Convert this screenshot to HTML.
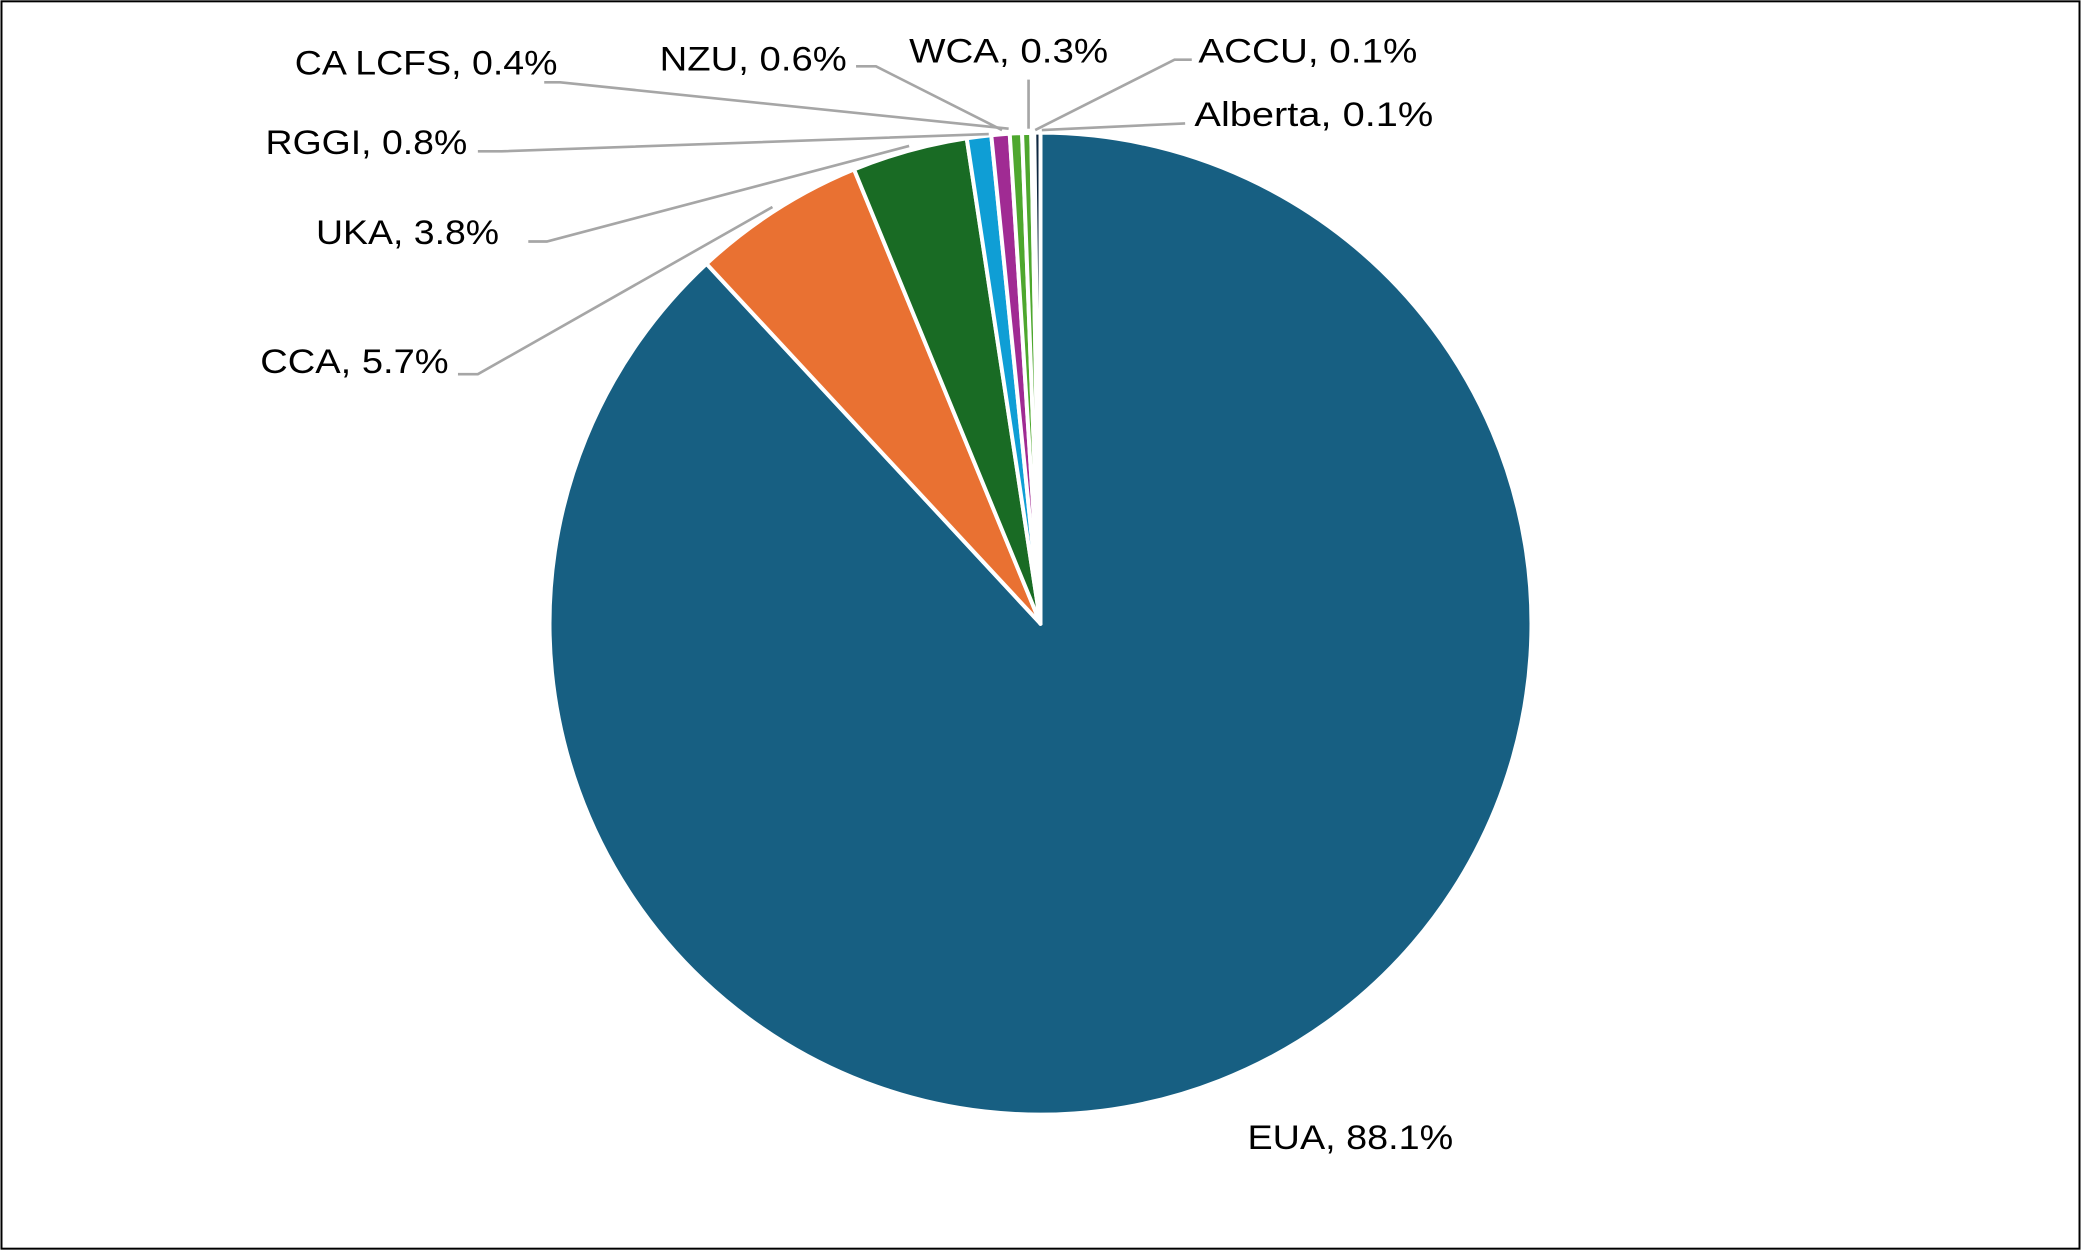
<!DOCTYPE html>
<html><head><style>html,body{margin:0;padding:0;background:#fff}svg{display:block}</style></head>
<body>
<svg width="2081" height="1250" viewBox="0 0 1568 942" xmlns="http://www.w3.org/2000/svg">
<rect x="1" y="1" width="1566" height="940" fill="#fff" stroke="#000" stroke-width="1.5"/>
<g stroke="#fff" stroke-width="3" stroke-linejoin="round">
<path d="M784,470 L784,100 A370,370 0 1 1 532.3,198.8 Z" fill="#175f82"/>
<path d="M784,470 L532.3,198.8 A370,370 0 0 1 643.5,127.7 Z" fill="#e97132"/>
<path d="M784,470 L643.5,127.7 A370,370 0 0 1 728.4,104.2 Z" fill="#196b24"/>
<path d="M784,470 L728.4,104.2 A370,370 0 0 1 746.9,101.9 Z" fill="#0f9ed5"/>
<path d="M784,470 L746.9,101.9 A370,370 0 0 1 760.8,100.7 Z" fill="#a02b93"/>
<path d="M784,470 L760.8,100.7 A370,370 0 0 1 770.1,100.3 Z" fill="#4ea72e"/>
<path d="M784,470 L770.1,100.3 A370,370 0 0 1 777,100.1 Z" fill="#4ea72e"/>
<path d="M784,470 L777,100.1 A370,370 0 0 1 779.3,100 Z" fill="#0e2841"/>
<path d="M784,470 L779.3,100 A370,370 0 0 1 784,100 Z" fill="#0e2841"/>
</g>
<g stroke="#a6a6a6" stroke-width="2" fill="none">
<polyline points="410,62 422,62 760,97"/>
<polyline points="645,50 660,50 755,98"/>
<polyline points="775,60 775,97"/>
<polyline points="898,45 885,45 780,98"/>
<polyline points="893,93 785,98"/>
<polyline points="360,114 378,114 745,101"/>
<polyline points="398,182 412,182 685,110"/>
<polyline points="345,282 360,282 582,156"/>
</g>
<g font-family="Liberation Sans, sans-serif" font-size="26" fill="#000" lengthAdjust="spacingAndGlyphs">
<text x="222" y="56" textLength="198" lengthAdjust="spacingAndGlyphs">CA LCFS, 0.4%</text>
<text x="497" y="53" textLength="141" lengthAdjust="spacingAndGlyphs">NZU, 0.6%</text>
<text x="685" y="47" textLength="150" lengthAdjust="spacingAndGlyphs">WCA, 0.3%</text>
<text x="903" y="47" textLength="165" lengthAdjust="spacingAndGlyphs">ACCU, 0.1%</text>
<text x="900" y="95" textLength="180" lengthAdjust="spacingAndGlyphs">Alberta, 0.1%</text>
<text x="200" y="116" textLength="152" lengthAdjust="spacingAndGlyphs">RGGI, 0.8%</text>
<text x="238" y="184" textLength="138" lengthAdjust="spacingAndGlyphs">UKA, 3.8%</text>
<text x="196" y="281" textLength="142" lengthAdjust="spacingAndGlyphs">CCA, 5.7%</text>
<text x="940" y="866" textLength="155" lengthAdjust="spacingAndGlyphs">EUA, 88.1%</text>
</g>
</svg>
</body></html>
